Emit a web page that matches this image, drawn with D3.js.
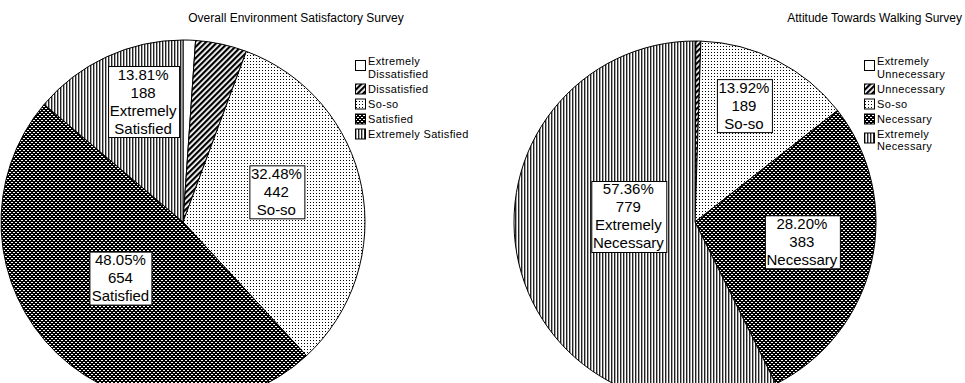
<!DOCTYPE html>
<html>
<head>
<meta charset="utf-8">
<script src="https://cdn.jsdelivr.net/npm/d3@7"></script>
<style>
  html, body { margin: 0; padding: 0; background: #fff; }
  svg { display: block; font-family: "Liberation Sans", Arial, sans-serif; }
</style>
</head>
<body>
<svg id="chart" width="965" height="383"></svg>
<script>
// Survey responses
const leftTitle = "Overall Environment Satisfactory Survey";
const leftCategories = ["Extremely Dissatisfied", "Dissatisfied", "So-so", "Satisfied", "Extremely Satisfied"];
const leftValues = [15, 62, 442, 654, 188];
const leftLegendLines = [["Extremely", "Dissatisfied"], ["Dissatisfied"], ["So-so"], ["Satisfied"], ["Extremely Satisfied"]];
const leftSliceNameLines = [["Extremely", "Dissatisfied"], ["Dissatisfied"], ["So-so"], ["Satisfied"], ["Extremely", "Satisfied"]];

const rightTitle = "Attitude Towards Walking Survey";
const rightCategories = ["Extremely Unnecessary", "Unnecessary", "So-so", "Necessary", "Extremely Necessary"];
const rightValues = [1, 6, 189, 383, 779];
const rightLegendLines = [["Extremely", "Unnecessary"], ["Unnecessary"], ["So-so"], ["Necessary"], ["Extremely", "Necessary"]];
const rightSliceNameLines = [["Extremely", "Unnecessary"], ["Unnecessary"], ["So-so"], ["Necessary"], ["Extremely", "Necessary"]];

// Fill pattern ids, one per response level (same order in both charts)
const fillPatterns = ["url(#pWhite)", "url(#pDiag)", "url(#pDots)", "url(#pCheck)", "url(#pVert)"];

const svg = d3.select("#chart");
const defs = svg.append("defs");

// white
defs.append("pattern").attr("id", "pWhite").attr("patternUnits", "userSpaceOnUse")
  .attr("width", 4).attr("height", 4)
  .append("rect").attr("width", 4).attr("height", 4).attr("fill", "#fff");

// dense forward diagonal stripes
const pd = defs.append("pattern").attr("id", "pDiag").attr("patternUnits", "userSpaceOnUse")
  .attr("width", 4).attr("height", 4).attr("patternTransform", "rotate(45)");
pd.append("rect").attr("width", 4).attr("height", 4).attr("fill", "#fff");
pd.append("rect").attr("width", 2.2).attr("height", 4).attr("fill", "#000");

// sparse dots
const pdots = defs.append("pattern").attr("id", "pDots").attr("patternUnits", "userSpaceOnUse")
  .attr("width", 3).attr("height", 3);
pdots.append("rect").attr("width", 3).attr("height", 3).attr("fill", "#fff");
pdots.append("rect").attr("x", 1).attr("y", 1).attr("width", 1).attr("height", 1).attr("fill", "#000");

// dark checker
const pc = defs.append("pattern").attr("id", "pCheck").attr("patternUnits", "userSpaceOnUse")
  .attr("width", 4).attr("height", 4);
pc.append("rect").attr("width", 4).attr("height", 4).attr("fill", "#000");
pc.append("rect").attr("x", 0).attr("y", 0).attr("width", 2).attr("height", 1).attr("fill", "#fff");
pc.append("rect").attr("x", 2).attr("y", 2).attr("width", 2).attr("height", 1).attr("fill", "#fff");

// vertical lines
const pv = defs.append("pattern").attr("id", "pVert").attr("patternUnits", "userSpaceOnUse")
  .attr("width", 3).attr("height", 3);
pv.append("rect").attr("width", 3).attr("height", 3).attr("fill", "#fff");
pv.append("rect").attr("x", 0).attr("width", 1.4).attr("height", 3).attr("fill", "#222");

function drawPie(opts) {
  const { cx, cy, r, values, nameLines, legendLines, title, titleX, titleAnchor, legendX, legendY, labelPlacement } = opts;
  const total = d3.sum(values);
  const pie = d3.pie().sort(null).startAngle(0).endAngle(2 * Math.PI)(values);
  const arc = d3.arc().innerRadius(0).outerRadius(r);

  const g = svg.append("g").attr("transform", `translate(${cx},${cy})`);
  g.selectAll("path.slice").data(pie).join("path")
    .attr("class", "slice")
    .attr("d", arc)
    .attr("fill", (d, i) => fillPatterns[i])
    .attr("stroke", "#000")
    .attr("stroke-width", 1);

  // data labels for the larger slices
  pie.forEach((d, i) => {
    const place = labelPlacement[i];
    if (!place) return;
    const mid = (d.startAngle + d.endAngle) / 2 + place[1] * Math.PI / 180;
    const rr = r * place[0];
    const lx = Math.sin(mid) * rr;
    const ly = -Math.cos(mid) * rr;
    const lines = [(d.value / total * 100).toFixed(2) + "%", String(d.value)].concat(nameLines[i]);
    const lh = 18;
    const lg = g.append("g").attr("transform", `translate(${lx},${ly})`);
    const box = lg.append("rect").attr("fill", "#fff").attr("stroke", "#000").attr("stroke-width", 1);
    const t = lg.append("text").attr("text-anchor", "middle").attr("font-size", 15).attr("fill", "#000");
    lines.forEach((s, k) => {
      t.append("tspan").attr("x", 0).attr("y", (k - (lines.length - 1) / 2) * lh + 5.5).text(s);
    });
    const bb = t.node().getBBox();
    box.attr("x", Math.round(bb.x - 2) + 0.5).attr("y", Math.round(bb.y) + 0.5)
      .attr("width", Math.round(bb.width + 4)).attr("height", Math.round(bb.height));
  });

  // title
  svg.append("text").attr("x", titleX).attr("y", 22).attr("text-anchor", titleAnchor)
    .attr("font-size", 12).attr("fill", "#000").text(title);

  // legend
  const leg = svg.append("g").attr("transform", `translate(${legendX},${legendY})`);
  let y = 0;
  legendLines.forEach((lines, i) => {
    const h = (lines.length - 1) * 12.5 + 15;
    const sy = lines.length > 1 ? y + 5 : y + 1;
    leg.append("rect").attr("x", 0.5).attr("y", sy + 0.5).attr("width", 10).attr("height", 10)
      .attr("fill", fillPatterns[i]).attr("stroke", "#000").attr("stroke-width", 1);
    const t = leg.append("text").attr("font-size", 11).attr("letter-spacing", 0.35).attr("fill", "#000");
    lines.forEach((s, k) => {
      t.append("tspan").attr("x", 13).attr("y", y + 10 + k * 12.5).text(s);
    });
    y += h;
  });
}

drawPie({
  cx: 183, cy: 222, r: 182,
  values: leftValues, nameLines: leftSliceNameLines, legendLines: leftLegendLines,
  title: leftTitle, titleX: 296, titleAnchor: "middle",
  legendX: 355, legendY: 55,
  labelPlacement: [null, null, [0.54, -7], [0.46, 4.6], [0.70, 6.6]]
});

drawPie({
  cx: 695, cy: 222, r: 181,
  values: rightValues, nameLines: rightSliceNameLines, legendLines: rightLegendLines,
  title: rightTitle, titleX: 962, titleAnchor: "end",
  legendX: 864, legendY: 55,
  labelPlacement: [null, null, [0.70, -4.2], [0.60, -2.5], [0.37, 18.4]]
});
</script>
</body>
</html>
